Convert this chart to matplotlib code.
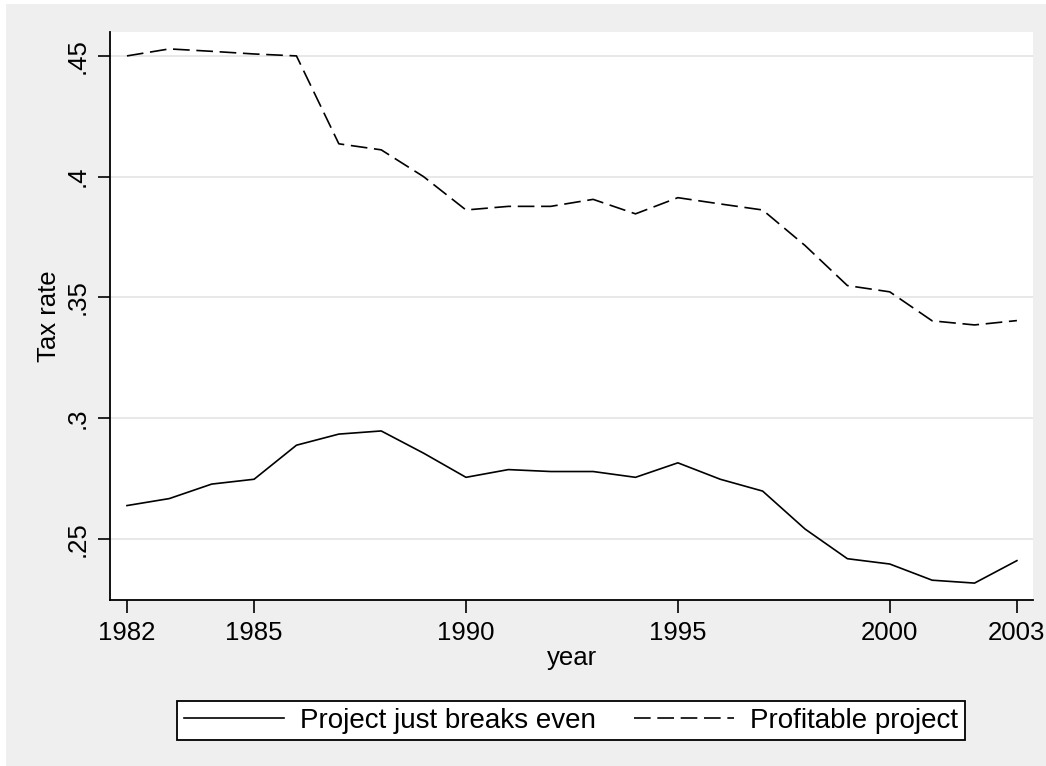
import matplotlib
matplotlib.use("Agg")
import matplotlib.pyplot as plt
from matplotlib.patches import Rectangle

plt.rcParams["font.family"] = ["Liberation Sans", "DejaVu Sans"]

# Données
years = list(range(1982, 2004))
break_even = [0.2638, 0.2667, 0.2727, 0.2747, 0.2888, 0.2934, 0.2947, 0.2855,
              0.2755, 0.2787, 0.2779, 0.2779, 0.2755, 0.2815, 0.2747, 0.2698,
              0.2541, 0.2418, 0.2396, 0.2329, 0.2317, 0.2410]
profitable = [0.4500, 0.4529, 0.4519, 0.4508, 0.4500, 0.4136, 0.4111, 0.4000,
              0.3862, 0.3877, 0.3877, 0.3906, 0.3846, 0.3913, 0.3887, 0.3862,
              0.3715, 0.3549, 0.3523, 0.3403, 0.3386, 0.3404]
xticks = [1982, 1985, 1990, 1995, 2000, 2003]
yticks = [0.25, 0.30, 0.35, 0.40, 0.45]
ytick_labels = [".25", ".3", ".35", ".4", ".45"]

W, H = 1046, 766
fig = plt.figure(figsize=(W / 100, H / 100), dpi=100)
fig.patch.set_facecolor("white")
# fond gris façon Stata
fig.patches.append(Rectangle((6 / W, 0), 1 - 6 / W, 1 - 4 / H,
                             transform=fig.transFigure, facecolor="#efefef",
                             edgecolor="none", zorder=-10))

ax = fig.add_axes([110 / W, 1 - 600 / H, (1033 - 110) / W, (600 - 32) / H])
ax.set_zorder(1)
ax.set_facecolor("white")

FS = 18.5
ax.plot(years, break_even, "-", color="black", lw=1.2,
        label="Project just breaks even")
ax.plot(years, profitable, color="black", lw=1.2, dashes=(10, 4),
        label="Profitable project")

ax.set_xlim(1981.6, 2003.38)
ax.set_ylim(0.2247, 0.4599)
ax.set_xticks(xticks)
ax.set_xticklabels([str(y) for y in xticks], fontsize=FS)
ax.set_yticks(yticks)
ax.set_yticklabels(ytick_labels, fontsize=FS, rotation=90, va="center")
ax.tick_params(direction="out", length=9, width=1.2, color="black", pad=6)
ax.grid(axis="y", color="#e6e6e6", lw=1.3)
ax.set_axisbelow(True)

for s in ["top", "right"]:
    ax.spines[s].set_visible(False)
for s in ["left", "bottom"]:
    ax.spines[s].set_linewidth(1.3)

ax.set_xlabel("year", fontsize=FS, labelpad=1)
ax.set_ylabel("Tax rate", fontsize=FS, labelpad=3)

leg = fig.legend(loc="center", bbox_to_anchor=(571 / W, 1 - 720.5 / H),
                 ncol=2, fontsize=20, frameon=True, fancybox=False,
                 edgecolor="black", facecolor="white", framealpha=1,
                 handlelength=3.6, handletextpad=0.55, columnspacing=1.4,
                 borderpad=0.25, borderaxespad=0)
leg.get_frame().set_linewidth(1.3)
leg.set_zorder(2)

fig.savefig("out.png", dpi=100)
